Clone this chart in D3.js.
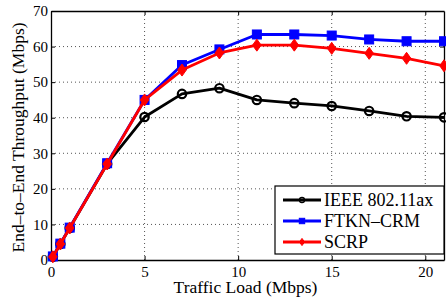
<!DOCTYPE html>
<html>
<head>
<meta charset="utf-8">
<script src="https://cdn.jsdelivr.net/npm/d3@7"></script>
<style>
  body { margin: 0; background: #fff; }
</style>
</head>
<body>
<div id="chart"></div>
<script>
// traffic load values (Mbps)
var loads = [0.1, 0.5, 1, 3, 5, 7, 9, 11, 13, 15, 17, 19, 21];
var ieee = [0.9, 4.5, 9, 27, 40.2, 46.7, 48.3, 45, 44.1, 43.3, 41.9, 40.4, 40.1];
var ftkn = [1, 4.6, 9.1, 27.2, 45, 54.8, 59.2, 63.4, 63.4, 63.1, 62, 61.5, 61.5];
var scrp = [0.9, 4.5, 9, 27, 45, 53.4, 58.2, 60.4, 60.4, 59.5, 58.1, 56.7, 54.6];
var seriesNames = ["IEEE 802.11ax", "FTKN\u2013CRM", "SCRP"];
var xTicks = [0, 5, 10, 15, 20];
var yTicks = [0, 10, 20, 30, 40, 50, 60, 70];

var serif = "Tinos, FreeSerif, 'Liberation Serif', serif";

var svgWidth = 446;
var svgHeight = 300;
var margin = { top: 11, right: 2, bottom: 40, left: 51 };
var width = svgWidth - margin.left - margin.right;
var height = svgHeight - margin.top - margin.bottom;

var svg = d3.select("#chart")
  .append("svg")
  .attr("width", svgWidth)
  .attr("height", svgHeight);

var chartGroup = svg.append("g")
  .attr("transform", `translate(${margin.left}, ${margin.top})`);

var x = d3.scaleLinear().domain([0, 21]).range([0, width]);
var y = d3.scaleLinear().domain([0, 70]).range([height, 0]);

// dotted grid
chartGroup.append("g").selectAll("line")
  .data(xTicks.filter(d => d > 0))
  .enter().append("line")
  .attr("x1", d => x(d)).attr("x2", d => x(d))
  .attr("y1", 0).attr("y2", height)
  .attr("stroke", "#555").attr("stroke-width", 1)
  .attr("stroke-dasharray", "1,3");
chartGroup.append("g").selectAll("line")
  .data(yTicks.filter(d => d > 0 && d < 70))
  .enter().append("line")
  .attr("y1", d => y(d)).attr("y2", d => y(d))
  .attr("x1", 0).attr("x2", width)
  .attr("stroke", "#555").attr("stroke-width", 1)
  .attr("stroke-dasharray", "1,3");

// axes, ticks inward
var bottomAxis = d3.axisBottom(x).tickValues(xTicks).tickSizeInner(-4).tickSizeOuter(0).tickPadding(6);
var leftAxis = d3.axisLeft(y).tickValues(yTicks).tickSizeInner(-4).tickSizeOuter(0).tickPadding(3);
var topAxis = d3.axisTop(x).tickValues(xTicks).tickSizeInner(-4).tickSizeOuter(0).tickFormat("");
var rightAxis = d3.axisRight(y).tickValues(yTicks).tickSizeInner(-4).tickSizeOuter(0).tickFormat("");

[
  [bottomAxis, `translate(0, ${height})`],
  [leftAxis, null],
  [topAxis, null],
  [rightAxis, `translate(${width}, 0)`]
].forEach(function(a) {
  var g = chartGroup.append("g").call(a[0]);
  if (a[1]) g.attr("transform", a[1]);
  g.attr("font-family", serif).attr("font-size", 15);
  g.select(".domain").attr("stroke", "#000").attr("stroke-width", 1.3);
  g.selectAll(".tick line").attr("stroke", "#000");
  g.selectAll("text").style("font-family", serif).style("font-size", "15px").attr("fill", "#000");
});

// series
var series = [
  { name: seriesNames[0], values: ieee, color: "#000", marker: "circle" },
  { name: seriesNames[1], values: ftkn, color: "#0000ff", marker: "square" },
  { name: seriesNames[2], values: scrp, color: "#ff0000", marker: "diamond" }
];

var line = d3.line().x(d => x(d[0])).y(d => y(d[1]));

function drawMarker(g, type, color, cx, cy, s) {
  if (type === "circle") {
    g.append("circle").attr("cx", cx).attr("cy", cy).attr("r", 4.2 * s)
      .attr("fill", "none").attr("stroke", color).attr("stroke-width", 2.2 * s);
  } else if (type === "square") {
    g.append("rect").attr("x", cx - 4.5 * s).attr("y", cy - 4.5 * s)
      .attr("width", 9 * s).attr("height", 9 * s)
      .attr("fill", color).attr("stroke", color).attr("stroke-width", 1);
  } else {
    var r = 6 * s, w = 4.3 * s;
    g.append("path")
      .attr("d", `M${cx},${cy - r}L${cx + w},${cy}L${cx},${cy + r}L${cx - w},${cy}Z`)
      .attr("fill", color).attr("stroke", color).attr("stroke-width", 1);
  }
}

series.forEach(function(s) {
  var pts = loads.map((l, i) => [l, s.values[i]]);
  var g = chartGroup.append("g");
  g.append("path").datum(pts)
    .attr("d", line)
    .attr("fill", "none")
    .attr("stroke", s.color)
    .attr("stroke-width", 2.8)
    .attr("stroke-linejoin", "round");
  pts.forEach(function(p) {
    drawMarker(g, s.marker, s.color, x(p[0]), y(p[1]), 1);
  });
});

// legend
var legend = chartGroup.append("g")
  .attr("transform", `translate(${width - 169}, ${height - 74})`);
legend.append("rect")
  .attr("width", 169).attr("height", 68)
  .attr("fill", "#fff").attr("stroke", "#000").attr("stroke-width", 1.2);
series.forEach(function(s, i) {
  var ly = 14 + i * 21;
  legend.append("line")
    .attr("x1", 8).attr("x2", 46).attr("y1", ly).attr("y2", ly)
    .attr("stroke", s.color).attr("stroke-width", 2.8);
  drawMarker(legend, s.marker, s.color, 27, ly, 0.6);
  legend.append("text")
    .attr("x", 49).attr("y", ly + 6)
    .style("font-family", serif)
    .style("font-size", "18px")
    .text(s.name);
});

// axis labels
chartGroup.append("text")
  .attr("transform", `translate(${width / 2 - 2}, ${height + 33})`)
  .attr("text-anchor", "middle")
  .style("font-family", serif)
  .style("font-size", "17.5px")
  .text("Traffic Load (Mbps)");

chartGroup.append("text")
  .attr("transform", "rotate(-90)")
  .attr("y", -margin.left + 24)
  .attr("x", -(height / 2) - 2)
  .attr("text-anchor", "middle")
  .style("font-family", serif)
  .style("font-size", "17.5px")
  .text("End\u2013to\u2013End Throughput (Mbps)");
</script>
</body>
</html>
